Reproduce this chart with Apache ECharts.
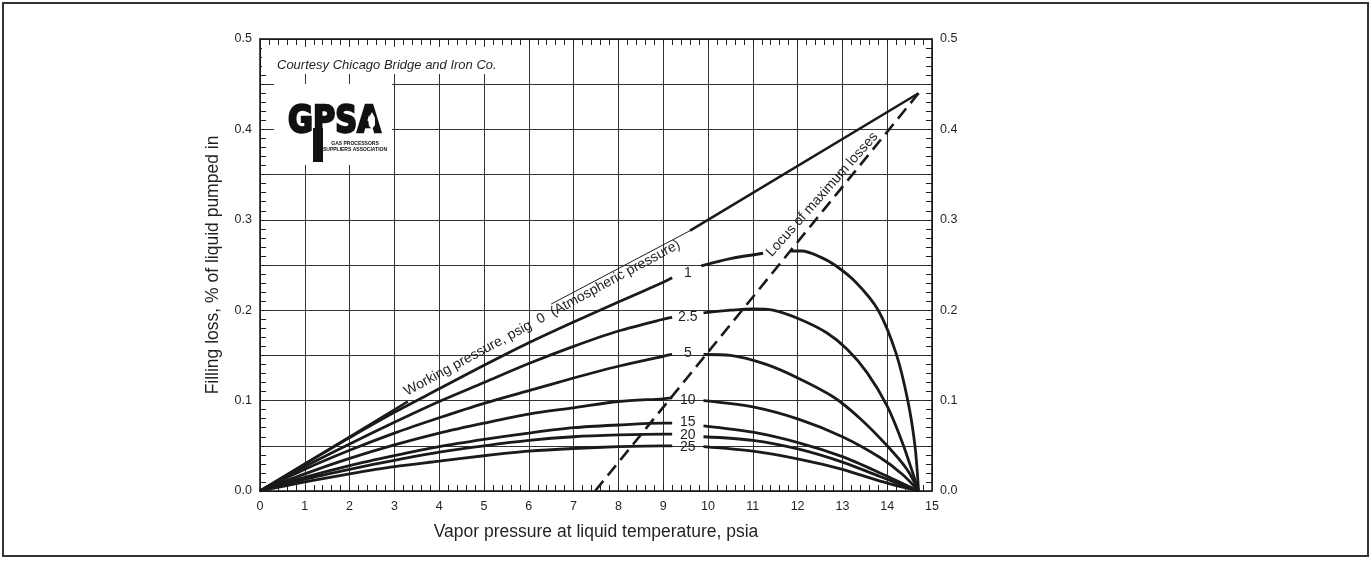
<!DOCTYPE html>
<html><head><meta charset="utf-8">
<script src="https://cdn.jsdelivr.net/npm/echarts@6/dist/echarts.min.js"></script>
<style>html,body{margin:0;padding:0;background:#fff}#c{width:1371px;height:563px}</style>
</head><body><div id="c"></div>
<script>
// ---- data ----
const xMin = 0, xMax = 15, yMin = 0, yMax = 0.5;

const line0Left  = [[0,0],[3.3,0.099]];
const line0Right = [[9.6,0.288],[14.7,0.44]];
const line0Over  = [[6.5,0.2068],[9.6,0.288]];

const c1Left   = [[0,0],[1,0.030],[2,0.059],[3,0.087],[4,0.113],[5,0.139],[6,0.164],[7,0.187],[8,0.209],[9,0.231],[9.2,0.236]];
const c1RightA = [[9.85,0.249],[10.5,0.257],[11.23,0.263]];
const c1RightB = [[11.85,0.2655],[12.1,0.2655],[12.5,0.259],[12.83,0.250],[13.3,0.231],[13.8,0.200],[14.2,0.152],[14.46,0.100],[14.62,0.050],[14.7,0]];

const c2Left  = [[0,0],[1,0.027],[2,0.052],[3,0.076],[4,0.099],[5,0.120],[6,0.141],[7,0.160],[8,0.177],[9,0.190],[9.2,0.192]];
const c2Right = [[9.9,0.197],[10.5,0.200],[11,0.2015],[11.45,0.200],[12.05,0.190],[12.65,0.175],[13.1,0.157],[13.55,0.131],[14,0.094],[14.35,0.052],[14.7,0]];

const c5Left  = [[0,0],[1,0.024],[2,0.045],[3,0.064],[4,0.081],[5,0.097],[6,0.111],[7,0.125],[8,0.138],[9,0.149],[9.2,0.151]];
const c5Right = [[9.9,0.151],[10.5,0.150],[11.3,0.140],[12.05,0.124],[12.8,0.104],[13.4,0.080],[14,0.050],[14.44,0.024],[14.7,0]];

const c10Left  = [[0,0],[1,0.019],[2,0.036],[3,0.051],[4,0.064],[5,0.075],[6,0.085],[7,0.092],[8,0.099],[9,0.102],[9.2,0.103]];
const c10Right = [[9.9,0.100],[11,0.093],[12.05,0.079],[13,0.060],[13.84,0.037],[14.35,0.018],[14.7,0]];

const c15Left  = [[0,0],[1,0.015],[2,0.028],[3,0.039],[4,0.049],[5,0.057],[6,0.064],[7,0.070],[8,0.073],[9,0.075],[9.2,0.075]];
const c15Right = [[9.9,0.072],[11,0.065],[12.05,0.053],[13,0.038],[13.84,0.020],[14.7,0]];

const c20Left  = [[0,0],[1,0.013],[2,0.024],[3,0.034],[4,0.043],[5,0.050],[6,0.056],[7,0.060],[8,0.062],[9,0.063],[9.2,0.063]];
const c20Right = [[9.9,0.060],[11,0.056],[12.05,0.046],[13,0.032],[13.84,0.016],[14.7,0]];

const c25Left  = [[0,0],[1,0.010],[2,0.019],[3,0.027],[4,0.033],[5,0.039],[6,0.044],[7,0.047],[8,0.049],[9,0.050],[9.2,0.050]];
const c25Right = [[9.9,0.049],[11,0.044],[12.05,0.035],[13,0.024],[13.84,0.011],[14.7,0]];

const locus = [[7.48,0],[14.7,0.44]];

const curveLabels = ['1','2.5','5','10','15','20','25'];
const curveLabelX = 9.55;
const curveLabelY = [0.241,0.192,0.153,0.101,0.076,0.062,0.048];

const workingText = 'Working pressure, psig  0  (Atmospheric pressure)';
const workingPos  = [6.3,0.1912];
const locusText   = 'Locus of maximum losses';
const locusPos    = [12.55,0.328];

const xTitle = 'Vapor pressure at liquid temperature, psia';
const yTitle = 'Filling loss, % of liquid pumped in';
const courtesy = 'Courtesy Chicago Bridge and Iron Co.';

// ---- chart ----
const FONT = '"Liberation Sans", Arial, Helvetica, sans-serif';
const INK = '#1a1a1a';
const TXT = '#231f20';
function ln(data, w, extra) {
  return Object.assign({
    type: 'line', data: data, showSymbol: false, symbol: 'none',
    smooth: 0.3, silent: true,
    lineStyle: { color: INK, width: w }, z: 3
  }, extra || {});
}
const series = [
  ln(line0Left, 2.6, {smooth:false}), ln(line0Right, 2.6, {smooth:false}), ln(line0Over, 1, {smooth:false}),
  ln(c1Left, 2.8), ln(c1RightA, 2.8), ln(c1RightB, 2.8),
  ln(c2Left, 2.8), ln(c2Right, 2.8),
  ln(c5Left, 2.8), ln(c5Right, 2.8),
  ln(c10Left, 2.8), ln(c10Right, 2.8),
  ln(c15Left, 2.8), ln(c15Right, 2.8),
  ln(c20Left, 2.8), ln(c20Right, 2.8),
  ln(c25Left, 2.8), ln(c25Right, 2.8),
  ln(locus, 2.6, {smooth:false, lineStyle:{color:INK, width:2.6, type:[13,7]}})
];

const axisLine = { show: true, onZero: false, lineStyle: { color: '#111', width: 1.5 } };
const tick = { show: true, inside: true, length: 6, lineStyle: { color: '#222', width: 1 } };
const minor = (n) => ({ show: true, splitNumber: n, length: 6, lineStyle: { color: '#222', width: 1 } });
const gridLine = { show: true, lineStyle: { color: '#333', width: 1 } };
const yFmt = v => (Math.round(v*100) % 10 === 0 ? v.toFixed(1) : '');
const tickFont = { fontFamily: FONT, fontSize: 12.5, color: TXT };

const chart = echarts.init(document.getElementById('c'), null, { renderer: 'canvas' });
chart.setOption({
  backgroundColor: '#fff',
  animation: false,
  grid: { left: 260, right: 439, top: 39, bottom: 72 },
  xAxis: [
    { type: 'value', min: xMin, max: xMax, interval: 1, position: 'bottom',
      axisLine: axisLine, axisTick: tick, minorTick: minor(5), splitLine: gridLine,
      axisLabel: Object.assign({ margin: 9 }, tickFont),
      name: xTitle, nameLocation: 'middle', nameGap: 32,
      nameTextStyle: { fontFamily: FONT, fontSize: 17.5, color: TXT } },
    { type: 'value', min: xMin, max: xMax, interval: 1, position: 'top',
      axisLine: axisLine, axisTick: tick, minorTick: minor(5), splitLine: { show: false },
      axisLabel: { show: false } }
  ],
  yAxis: [
    { type: 'value', min: yMin, max: yMax, interval: 0.05, position: 'left',
      axisLine: axisLine, axisTick: tick, minorTick: minor(5), splitLine: gridLine,
      axisLabel: Object.assign({ formatter: yFmt, margin: 8 }, tickFont),
      name: yTitle, nameLocation: 'middle', nameGap: 38, nameRotate: 90,
      nameTextStyle: { fontFamily: FONT, fontSize: 17.5, color: TXT } },
    { type: 'value', min: yMin, max: yMax, interval: 0.05, position: 'right',
      axisLine: axisLine, axisTick: tick, minorTick: minor(5), splitLine: { show: false },
      axisLabel: Object.assign({ formatter: yFmt, margin: 8 }, tickFont) }
  ],
  series: series
});

// annotations positioned through the chart's own scales
function at(pt) { return chart.convertToPixel({ gridIndex: 0 }, pt); }
function label(pt, text, deg, size) {
  const p = at(pt);
  return { type: 'text', z: 60, x: p[0], y: p[1], rotation: deg * Math.PI / 180,
    style: { text: text, font: size + 'px ' + FONT, fill: TXT, align: 'center', verticalAlign: 'middle' } };
}
const g = [
  { type: 'rect', z: 50, shape: { x: 3, y: 3, width: 1365, height: 553 },
    style: { fill: 'none', stroke: '#333', lineWidth: 2 } },
  { type: 'rect', z: 50, shape: { x: 262, y: 47, width: 243, height: 27 }, style: { fill: '#fff' } },
  { type: 'text', z: 51, x: 277, y: 65, style: { text: courtesy, font: 'italic 13px ' + FONT, fill: TXT, verticalAlign: 'middle' } },
  { type: 'rect', z: 50, shape: { x: 274, y: 84, width: 118, height: 81 }, style: { fill: '#fff' } },
  // GPSA logo (approximation)
  { type: 'text', z: 51, x: 288, y: 103, scaleX: 0.8,
    style: { text: 'GPSA', font: 'bold 38px "DejaVu Sans", sans-serif', fill: '#111',
             stroke: '#111', lineWidth: 2.5 } },
  { type: 'rect', z: 51, shape: { x: 313, y: 128, width: 10, height: 34 }, style: { fill: '#111' } },
  { type: 'polygon', z: 52, shape: { points: [[372,112],[368,119],[369,126],[372,129],[375,125],[375,118]] },
    style: { fill: '#fff' } },
  { type: 'text', z: 52, x: 355, y: 141, style: { text: 'GAS PROCESSORS', font: 'bold 5px ' + FONT, fill: '#111', align: 'center' } },
  { type: 'text', z: 52, x: 355, y: 147, style: { text: 'SUPPLIERS ASSOCIATION', font: 'bold 5px ' + FONT, fill: '#111', align: 'center' } },
  label(workingPos, workingText, 28.5, 14),
  label(locusPos, locusText, 48.5, 14)
];
curveLabels.forEach((t, i) => g.push(label([curveLabelX, curveLabelY[i]], t, 0, 14)));
chart.setOption({ graphic: g });
</script></body></html>
